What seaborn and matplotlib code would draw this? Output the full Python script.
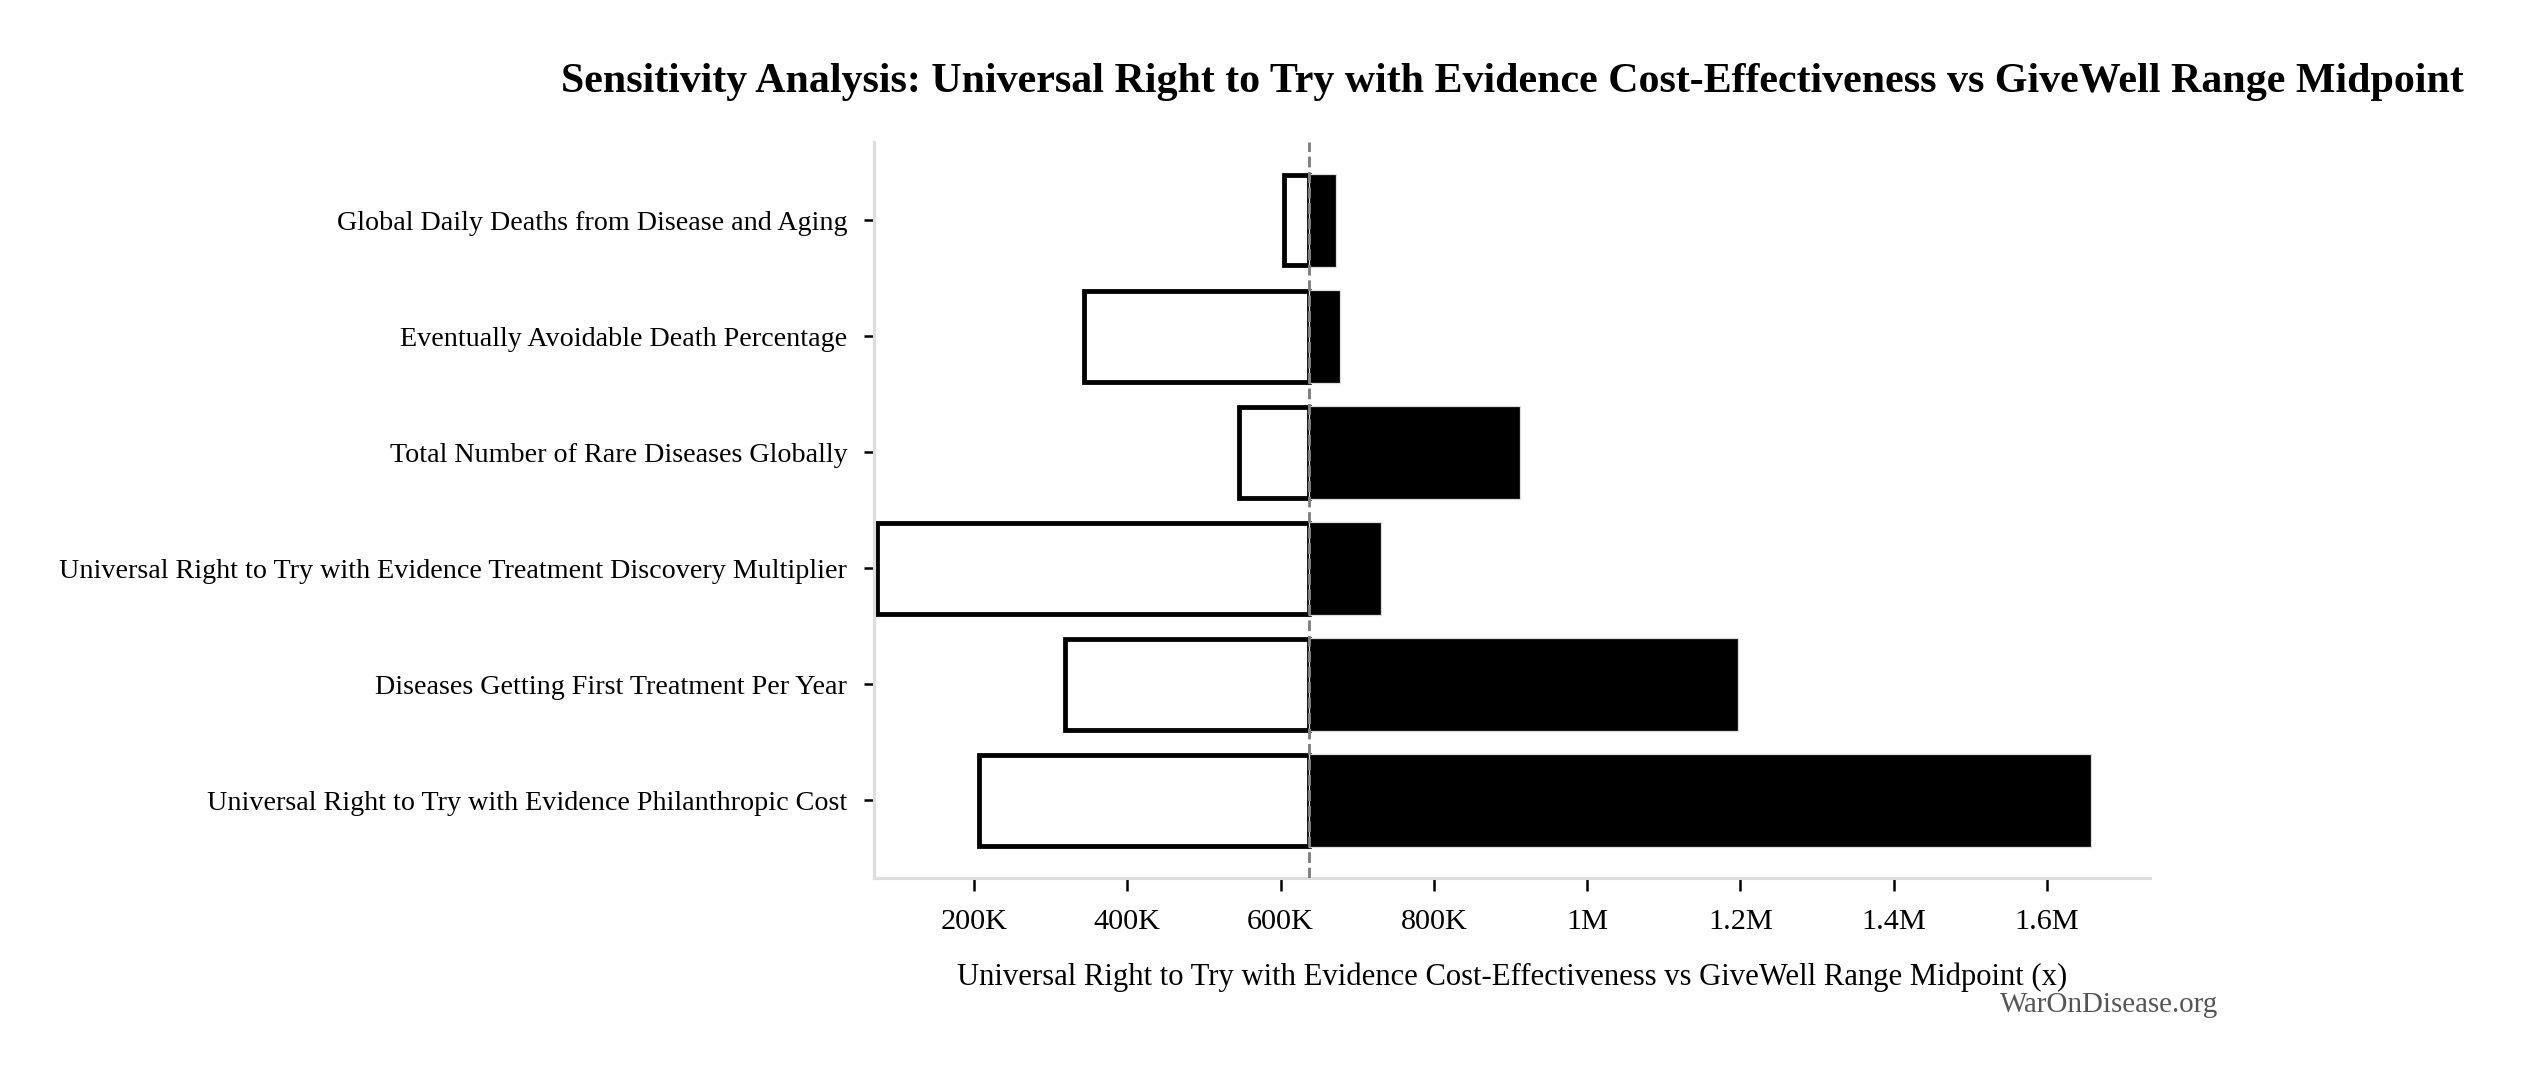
import matplotlib
matplotlib.use("Agg")
import matplotlib.pyplot as plt
import matplotlib.ticker as mticker
import seaborn as sns
import numpy as np

# Parameters (top to bottom as drawn)
params = [
    "Global Daily Deaths from Disease and Aging",
    "Eventually Avoidable Death Percentage",
    "Total Number of Rare Diseases Globally",
    "Universal Right to Try with Evidence Treatment Discovery Multiplier",
    "Diseases Getting First Treatment Per Year",
    "Universal Right to Try with Evidence Philanthropic Cost",
]
# outcome at low / high input value
low_vals = [604000, 344000, 546000, 74000, 319000, 207000]
high_vals = [672000, 677000, 912000, 731000, 1197000, 1658000]
baseline = 637000

title = "Sensitivity Analysis: Universal Right to Try with Evidence Cost-Effectiveness vs GiveWell Range Midpoint"
xlabel = "Universal Right to Try with Evidence Cost-Effectiveness vs GiveWell Range Midpoint (x)"

sns.set_theme(style="white")
plt.rcParams["font.family"] = ["Liberation Serif", "DejaVu Serif"]
plt.rcParams["text.color"] = "black"
plt.rcParams["axes.labelcolor"] = "black"
plt.rcParams["xtick.color"] = "black"
plt.rcParams["ytick.color"] = "black"

fig, ax = plt.subplots(figsize=(2527 / 150, 1071 / 150), dpi=150)
fig.subplots_adjust(left=0.346, right=0.851, bottom=0.180, top=0.867)

y = np.arange(len(params))
h = 0.78

# downside part (white with black outline)
ax.barh(y, np.array(low_vals) - baseline, left=baseline, height=h,
        color="white", edgecolor="black", linewidth=2.3, zorder=2)
# upside part (solid black)
ax.barh(y, np.array(high_vals) - baseline, left=baseline, height=h + 0.02,
        color="black", edgecolor="#dddddd", linewidth=0.6, zorder=3)

ax.axvline(baseline, color="#808080", linestyle="--", linewidth=1.4, zorder=4)

ax.set_yticks(y)
ax.set_yticklabels(params, fontsize=13.5)
ax.set_ylim(len(params) - 1 + 0.67, -0.67)
ax.set_xlim(70000, 1735000)


def fmt(v, pos):
    if v >= 1e6:
        s = f"{v / 1e6:.1f}".rstrip("0").rstrip(".")
        return s + "M"
    return f"{v / 1e3:.0f}K"


ax.xaxis.set_major_locator(mticker.MultipleLocator(200000))
ax.xaxis.set_major_formatter(mticker.FuncFormatter(fmt))
ax.tick_params(axis="x", labelsize=14.5, length=6, width=1.2, colors="black",
               direction="out", bottom=True, pad=9)
ax.tick_params(axis="y", length=5, width=1.2, colors="black",
               direction="out", left=True, pad=8)

ax.set_xlabel(xlabel, fontsize=14.7, labelpad=13)
ax.set_title(title, fontsize=20.2, fontweight="bold", pad=24)

sns.despine(ax=ax)
for side in ["left", "bottom"]:
    ax.spines[side].set_color("#dddddd")
    ax.spines[side].set_linewidth(1.5)

fig.text(0.878, 0.062, "WarOnDisease.org", ha="right", va="center",
         fontsize=13.9, color="#555555")

fig.savefig("out.png", dpi=150, facecolor="white")
